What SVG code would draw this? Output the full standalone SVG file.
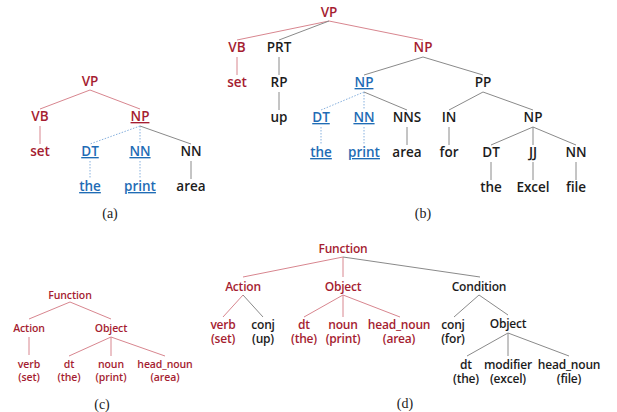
<svg xmlns="http://www.w3.org/2000/svg" width="617" height="412" viewBox="0 0 617 412">
<style>
text{font-family:"Open Sans","Noto Sans","DejaVu Sans",sans-serif;font-weight:600;text-anchor:middle}
.t{font-size:13.5px}
.s{font-size:10.5px;letter-spacing:-0.1px}
.m{font-size:12px;letter-spacing:-0.2px}
.r{fill:#a51d31}
.k{fill:#1c1c1c}
.b{fill:#1f6cb5;text-decoration:underline}
.cap{font-family:"Liberation Serif",serif;font-weight:400;font-size:14px;fill:#222}
line{stroke-width:1}
.lr{stroke:#d8868f}
.lk{stroke:#8a8a8a}
.lb{stroke:#86b0de;stroke-dasharray:1.5 1.5}
</style>
<rect width="617" height="412" fill="#fff"/>
<g id="connectors">
<!-- (a) -->
<line class="lr" x1="90" y1="90" x2="40" y2="109"/>
<line class="lr" x1="90" y1="90" x2="140" y2="109"/>
<line class="lr" x1="40" y1="126" x2="40" y2="144"/>
<line class="lb" x1="140" y1="126" x2="90" y2="144"/>
<line class="lb" x1="140" y1="126" x2="140" y2="144"/>
<line class="lk" x1="140" y1="126" x2="191" y2="144"/>
<line class="lb" x1="90" y1="161" x2="90" y2="179"/>
<line class="lb" x1="140" y1="161" x2="140" y2="179"/>
<line class="lk" x1="191" y1="161" x2="191" y2="179"/>
<!-- (b) -->
<line class="lr" x1="329" y1="21" x2="237" y2="40"/>
<line class="lk" x1="329" y1="21" x2="279" y2="40"/>
<line class="lr" x1="329" y1="21" x2="423" y2="40"/>
<line class="lr" x1="237" y1="57" x2="237" y2="75"/>
<line class="lk" x1="279" y1="57" x2="279" y2="75"/>
<line class="lk" x1="423" y1="57" x2="364" y2="75"/>
<line class="lk" x1="423" y1="57" x2="483" y2="75"/>
<line class="lk" x1="279" y1="92" x2="279" y2="110"/>
<line class="lb" x1="364" y1="92" x2="321" y2="110"/>
<line class="lb" x1="364" y1="92" x2="364" y2="110"/>
<line class="lk" x1="364" y1="92" x2="407" y2="110"/>
<line class="lk" x1="483" y1="92" x2="449" y2="110"/>
<line class="lk" x1="483" y1="92" x2="533" y2="110"/>
<line class="lb" x1="321" y1="127" x2="321" y2="145"/>
<line class="lb" x1="364" y1="127" x2="364" y2="145"/>
<line class="lk" x1="407" y1="127" x2="407" y2="145"/>
<line class="lk" x1="449" y1="127" x2="449" y2="145"/>
<line class="lk" x1="533" y1="127" x2="491" y2="145"/>
<line class="lk" x1="533" y1="127" x2="533" y2="145"/>
<line class="lk" x1="533" y1="127" x2="576" y2="145"/>
<line class="lk" x1="491" y1="162" x2="491" y2="180"/>
<line class="lk" x1="533" y1="162" x2="533" y2="180"/>
<line class="lk" x1="576" y1="162" x2="576" y2="180"/>
<!-- (c) -->
<line class="lr" x1="70" y1="302" x2="29" y2="319"/>
<line class="lr" x1="70" y1="302" x2="111" y2="319"/>
<line class="lr" x1="29" y1="337" x2="29" y2="355"/>
<line class="lr" x1="111" y1="337" x2="69" y2="356"/>
<line class="lr" x1="111" y1="337" x2="111" y2="356"/>
<line class="lr" x1="111" y1="337" x2="165" y2="356"/>
<!-- (d) -->
<line class="lr" x1="343" y1="257" x2="243" y2="277"/>
<line class="lr" x1="343" y1="257" x2="343" y2="277"/>
<line class="lk" x1="343" y1="257" x2="480" y2="277"/>
<line class="lr" x1="243" y1="295" x2="223" y2="317"/>
<line class="lk" x1="243" y1="295" x2="263" y2="317"/>
<line class="lr" x1="343" y1="295" x2="304" y2="317"/>
<line class="lr" x1="343" y1="295" x2="343" y2="317"/>
<line class="lr" x1="343" y1="295" x2="400" y2="317"/>
<line class="lk" x1="479" y1="295" x2="454" y2="317"/>
<line class="lk" x1="479" y1="295" x2="508" y2="315"/>
<line class="lk" x1="508" y1="333" x2="467" y2="356"/>
<line class="lk" x1="508" y1="333" x2="508" y2="356"/>
<line class="lk" x1="508" y1="333" x2="569" y2="356"/>
</g>
<!-- (a) -->
<g id="a-VP"><text class="t r" x="90" y="86">VP</text></g>
<g id="a-VB"><text class="t r" x="40" y="121">VB</text></g>
<g id="a-NP"><text class="t r" x="140" y="121" style="text-decoration:underline">NP</text></g>
<g id="a-set"><text class="t r" x="40" y="156">set</text></g>
<g id="a-DT"><text class="t b" x="90" y="156">DT</text></g>
<g id="a-NN1"><text class="t b" x="140" y="156">NN</text></g>
<g id="a-NN2"><text class="t k" x="191" y="156">NN</text></g>
<g id="a-the"><text class="t b" x="90" y="191">the</text></g>
<g id="a-print"><text class="t b" x="140" y="191">print</text></g>
<g id="a-area"><text class="t k" x="191" y="191">area</text></g>
<text class="cap" x="110" y="218">(a)</text>
<!-- (b) -->
<g id="b-VP"><text class="t r" x="329" y="17">VP</text></g>
<g id="b-VB"><text class="t r" x="237" y="52">VB</text></g>
<g id="b-PRT"><text class="t k" x="279" y="52">PRT</text></g>
<g id="b-NP"><text class="t r" x="423" y="52">NP</text></g>
<g id="b-set"><text class="t r" x="237" y="87">set</text></g>
<g id="b-RP"><text class="t k" x="279" y="87">RP</text></g>
<g id="b-NP2"><text class="t b" x="364" y="87">NP</text></g>
<g id="b-PP"><text class="t k" x="483" y="87">PP</text></g>
<g id="b-up"><text class="t k" x="279" y="122">up</text></g>
<g id="b-DT"><text class="t b" x="321" y="122">DT</text></g>
<g id="b-NN"><text class="t b" x="364" y="122">NN</text></g>
<g id="b-NNS"><text class="t k" x="407" y="122">NNS</text></g>
<g id="b-IN"><text class="t k" x="449" y="122">IN</text></g>
<g id="b-NP3"><text class="t k" x="533" y="122">NP</text></g>
<g id="b-the"><text class="t b" x="321" y="157">the</text></g>
<g id="b-print"><text class="t b" x="364" y="157">print</text></g>
<g id="b-area"><text class="t k" x="407" y="157">area</text></g>
<g id="b-for"><text class="t k" x="449" y="157">for</text></g>
<g id="b-DT2"><text class="t k" x="491" y="157">DT</text></g>
<g id="b-JJ"><text class="t k" x="533" y="157">JJ</text></g>
<g id="b-NN2"><text class="t k" x="576" y="157">NN</text></g>
<g id="b-the2"><text class="t k" x="491" y="192">the</text></g>
<g id="b-Excel"><text class="t k" x="533" y="192">Excel</text></g>
<g id="b-file"><text class="t k" x="576" y="192">file</text></g>
<text class="cap" x="423" y="218">(b)</text>
<!-- (c) -->
<g id="c-Function"><text class="s r" x="70" y="299">Function</text></g>
<g id="c-Action"><text class="s r" x="29" y="332">Action</text></g>
<g id="c-Object"><text class="s r" x="111" y="332">Object</text></g>
<g id="c-verb"><text class="s r" x="29" y="368">verb</text><text class="s r" x="29" y="381">(set)</text></g>
<g id="c-dt"><text class="s r" x="69" y="368">dt</text><text class="s r" x="69" y="381">(the)</text></g>
<g id="c-noun"><text class="s r" x="111" y="368">noun</text><text class="s r" x="111" y="381">(print)</text></g>
<g id="c-head"><text class="s r" x="165" y="368">head_noun</text><text class="s r" x="165" y="381">(area)</text></g>
<text class="cap" x="102" y="409">(c)</text>
<!-- (d) -->
<g id="d-Function"><text class="m r" x="343" y="253">Function</text></g>
<g id="d-Action"><text class="m r" x="243" y="291">Action</text></g>
<g id="d-Object"><text class="m r" x="343" y="291">Object</text></g>
<g id="d-Condition"><text class="m k" x="479" y="291">Condition</text></g>
<g id="d-verb"><text class="m r" x="223" y="329">verb</text><text class="m r" x="223" y="343">(set)</text></g>
<g id="d-conj"><text class="m k" x="263" y="329">conj</text><text class="m k" x="263" y="343">(up)</text></g>
<g id="d-dt"><text class="m r" x="304" y="329">dt</text><text class="m r" x="304" y="343">(the)</text></g>
<g id="d-noun"><text class="m r" x="343" y="329">noun</text><text class="m r" x="343" y="343">(print)</text></g>
<g id="d-head"><text class="m r" x="399" y="329">head_noun</text><text class="m r" x="399" y="343">(area)</text></g>
<g id="d-conj2"><text class="m k" x="453" y="329">conj</text><text class="m k" x="453" y="343">(for)</text></g>
<g id="d-Object2"><text class="m k" x="508" y="328">Object</text></g>
<g id="d-dt2"><text class="m k" x="466" y="369">dt</text><text class="m k" x="466" y="383">(the)</text></g>
<g id="d-modifier"><text class="m k" x="508" y="369">modifier</text><text class="m k" x="508" y="383">(excel)</text></g>
<g id="d-head2"><text class="m k" x="569" y="369">head_noun</text><text class="m k" x="569" y="383">(file)</text></g>
<text class="cap" x="405" y="408">(d)</text>
</svg>
